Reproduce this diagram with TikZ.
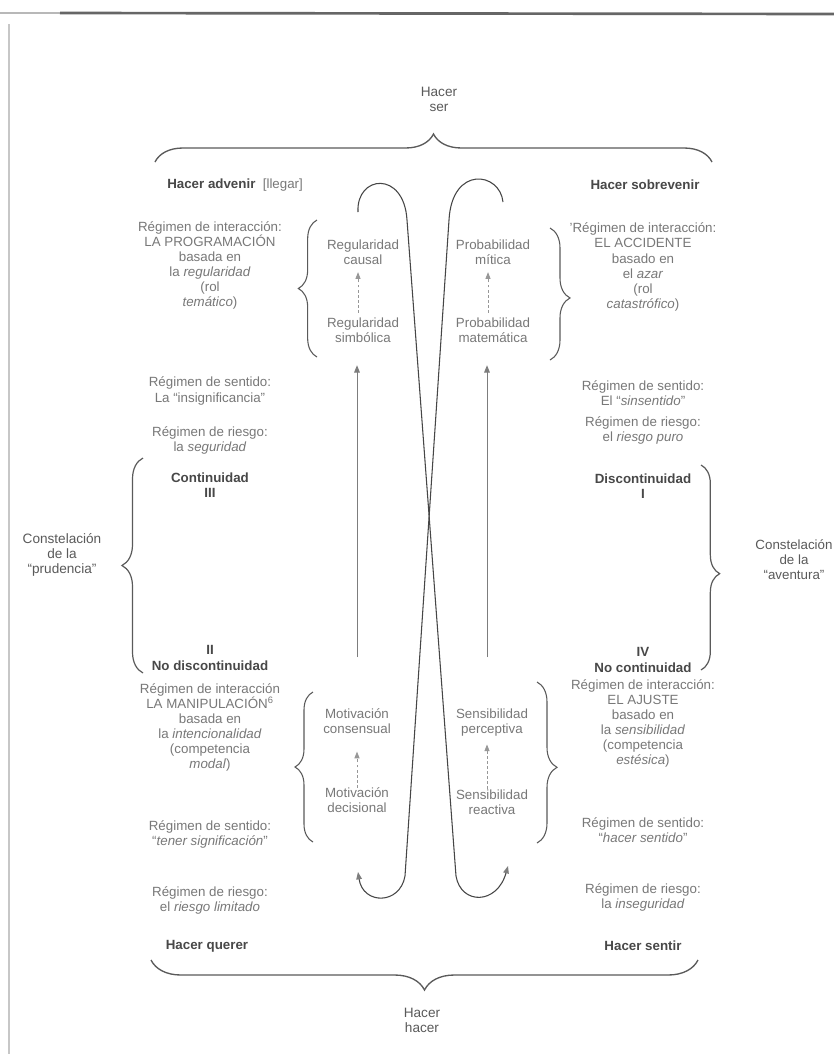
\documentclass[tikz,border=0pt]{standalone}
\usepackage{fontspec}
\setmainfont{Liberation Sans}
\usetikzlibrary{arrows.meta,decorations.pathreplacing,calc}
\definecolor{regtext}{RGB}{120,120,120}
\definecolor{boldtext}{RGB}{72,72,72}
\definecolor{midtext}{RGB}{90,90,90}
\definecolor{linecol}{RGB}{70,70,70}
\definecolor{arrcol}{RGB}{125,125,125}
\definecolor{bracecol}{RGB}{90,90,90}
\begin{document}
\begin{tikzpicture}[x=0.75pt,y=-0.75pt,
  txt/.style={align=center, inner sep=0pt, text=regtext, font=\fontsize{10}{11.3}\selectfont},
  bld/.style={align=center, inner sep=0pt, text=boldtext, font=\fontsize{10}{11.3}\selectfont\bfseries},
  mid/.style={align=center, inner sep=0pt, text=midtext, font=\fontsize{10.2}{11.3}\selectfont},
  tri/.style={-{Triangle[length=5.5pt,width=4.2pt,color=arrcol]}},
  longarr/.style={tri, draw=arrcol, line width=0.7pt},
  dasharr/.style={-{Triangle[length=5pt,width=3.8pt]}, draw=arrcol!80, line width=0.55pt, dash pattern=on 2.2pt off 1.6pt},
  curve/.style={tri, draw=linecol, line width=0.8pt},
  brc/.style={draw=bracecol, line width=0.8pt, decorate, decoration={brace, amplitude=#1}}
]
\useasboundingbox (0,0) rectangle (834,1054);
\fill[white] (0,0) rectangle (834,1054);

% page edges of the scan
\draw[black!28, line width=1.2pt] (0,13) -- (60,13);
\draw[black!60, line width=2pt] (60,13) -- (834,14);
\draw[black!22, line width=1.2pt] (9,24) -- (9,1054);

% top and bottom
\node[mid] (hser) at (439,99) {Hacer\\ser};
\draw[brc=21pt, line width=1pt] (155,162) -- (712,162);
\node[bld, anchor=west] (hadv) at (167,185) {Hacer advenir\ \ {\mdseries\color{regtext}[llegar]}};
\node[bld] (hsob) at (645,185) {Hacer sobrevenir};

\node[bld] (hquer) at (207,946) {Hacer querer};
\node[bld] (hsent) at (643,946) {Hacer sentir};
\draw[brc=22.5pt, line width=1pt] (698,960) -- (151,960);
\node[mid] (hhac) at (422,1020) {Hacer\\hacer};

% left column
\node[txt] (L1) at (210,265.5) {Régimen de interacción:\\LA PROGRAMACIÓN\\basada en\\la \textit{regularidad}\\(rol\\\textit{temático})};
\node[txt] (L2) at (210,391) {Régimen de sentido:\\La “insignificancia”};
\node[txt] (L3) at (210,440) {Régimen de riesgo:\\la \textit{seguridad}};
\node[bld] (L4) at (210,485.5) {Continuidad\\III};
\node[bld] (L5) at (210,658) {II\\No discontinuidad};
\node[txt] (L6) at (210,727.5) {Régimen de interacción\\LA MANIPULACIÓN\textsuperscript{6}\\basada en\\la \textit{intencionalidad}\\(competencia\\\textit{modal})};
\node[txt] (L7) at (210,834.5) {Régimen de sentido:\\“\textit{tener significación}”};
\node[txt] (L8) at (210,900) {Régimen de riesgo:\\el \textit{riesgo limitado}};
\node[mid] (cpru) at (62,555) {Constelación\\de la\\“prudencia”};

% right column
\node[txt] (R1) at (643,267) {’Régimen de interacción:\\EL ACCIDENTE\\basado en\\el \textit{azar}\\(rol\\\textit{catastrófico})};
\node[txt] (R2) at (643,393) {Régimen de sentido:\\El “\textit{sinsentido}”};
\node[txt] (R3) at (643,430.5) {Régimen de riesgo:\\el \textit{riesgo puro}};
\node[bld] (R4) at (643,486) {Discontinuidad\\I};
\node[bld] (R5) at (643,660) {IV\\No continuidad};
\node[txt] (R6) at (643,723.5) {Régimen de interacción:\\EL AJUSTE\\basado en\\la \textit{sensibilidad}\\(competencia\\\textit{estésica})};
\node[txt] (R7) at (643,830.5) {Régimen de sentido:\\“\textit{hacer sentido}”};
\node[txt] (R8) at (643,897) {Régimen de riesgo:\\la \textit{inseguridad}};
\node[mid, font=\fontsize{10}{11.3}\selectfont] (cave) at (794,560) {Constelación\\de la\\“aventura”};

% big braces
\draw[brc=15.75pt, line width=0.9pt] (143,673) -- (143,458);
\draw[brc=14pt, line width=0.9pt, decoration={aspect=0.53}] (701,465) -- (701,670);

% central items
\node[txt] (rc) at (363,252.5) {Regularidad\\causal};
\node[txt] (rs) at (363,330.5) {Regularidad\\simbólica};
\node[txt] (pm) at (493,252.5) {Probabilidad\\mítica};
\node[txt] (pma) at (493,330.5) {Probabilidad\\matemática};
\node[txt] (mc) at (357,721.5) {Motivación\\consensual};
\node[txt] (md) at (357,800.5) {Motivación\\decisional};
\node[txt] (sp) at (492,722.5) {Sensibilidad\\perceptiva};
\node[txt] (sr) at (492,802) {Sensibilidad\\reactiva};

% small braces
\draw[brc=14pt] (317,357) -- (317,220);
\draw[brc=15pt, decoration={aspect=0.53}] (550,228) -- (550,360);
\draw[brc=13.5pt] (313,842) -- (313,692);
\draw[brc=15pt, decoration={aspect=0.53}] (537,682) -- (537,843);

% dashed arrows
\draw[dasharr, shorten <=3.75pt, shorten >=5.25pt] ([xshift=-3.75pt]rs.north) -- ([xshift=-3.75pt]rc.south);
\draw[dasharr, shorten <=3.75pt, shorten >=5.25pt] ([xshift=-3.75pt]pma.north) -- ([xshift=-3.75pt]pm.south);
\draw[dasharr, shorten >=13pt] (md.north) -- (mc.south);
\draw[dasharr, shorten >=6pt] ([xshift=-3.75pt]sr.north) -- ([xshift=-3.75pt]sp.south);

% long vertical arrows
\coordinate (vl) at (357,657);
\coordinate (vr) at (487,657);
\draw[longarr, shorten >=16.5pt] (vl) -- (vl |- rs.south);
\draw[longarr, shorten >=16.5pt] (vr) -- (vr |- pma.south);

% the two crossing loops
\coordinate (a0) at (358,212);
\coordinate (a1) at (407,220);
\coordinate (a2) at (456,876);
\coordinate (a3) at (508,866);
\draw[curve] (a0) .. controls (356,175) and (404,170) .. (a1) -- (a2) .. controls (461,905) and (497,905) .. (a3);
\coordinate (b0) at (503,202);
\coordinate (b1) at (449,220);
\coordinate (b2) at (405,876);
\coordinate (b3) at (358,872);
\draw[curve] (b0) .. controls (500,172) and (452,165) .. (b1) -- (b2) .. controls (400,905) and (363,905) .. (b3);
\end{tikzpicture}
\end{document}
